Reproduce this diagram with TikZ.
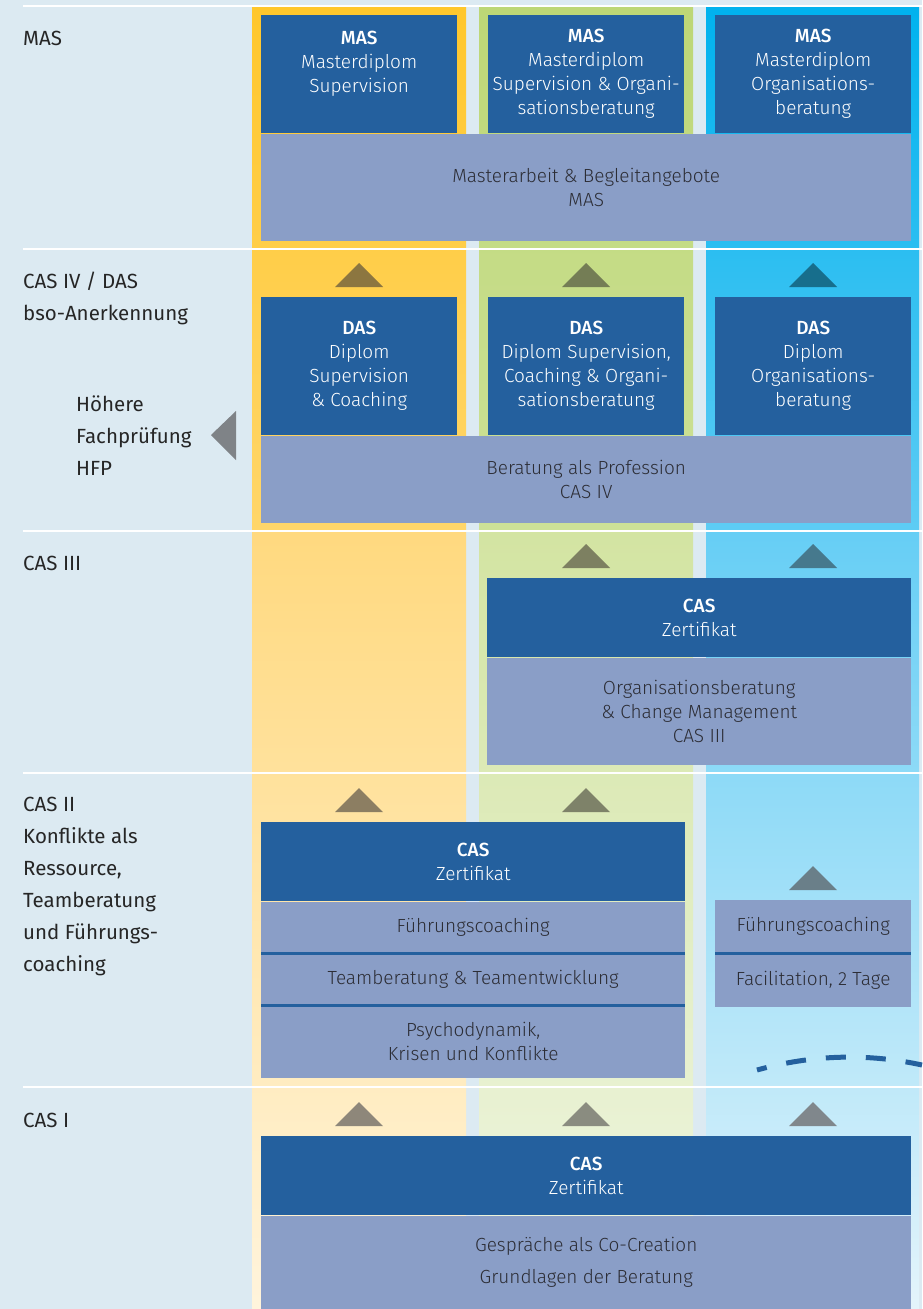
\documentclass[tikz,border=0pt]{standalone}
\usepackage{fontspec}
\setmainfont{Fira Sans}
\newfontfamily\lightfont{Fira Sans Light}
\newfontfamily\headfont{Fira Sans Medium}
\usetikzlibrary{positioning}

\definecolor{bgblue}{HTML}{DCEAF2}
\definecolor{boxdark}{HTML}{24609E}
\definecolor{boxlight}{HTML}{8A9EC7}
\definecolor{labeltext}{HTML}{262626}
\definecolor{bodytext}{HTML}{2C2D35}
\definecolor{yelTop}{HTML}{FFC72C}
\definecolor{yelUp}{HTML}{FFD66A}
\definecolor{yelLow}{HTML}{FFD97F}
\definecolor{yelMid}{HTML}{FFEBB8}
\definecolor{yelBot}{HTML}{FFF4DC}
\definecolor{grnTop}{HTML}{BDD776}
\definecolor{grnUp}{HTML}{CDE197}
\definecolor{grnLow}{HTML}{D3E4A2}
\definecolor{grnMid}{HTML}{E2EDC3}
\definecolor{grnBot}{HTML}{F0F6E3}
\definecolor{cyaTop}{HTML}{00B2EE}
\definecolor{cyaUp}{HTML}{5ECCF4}
\definecolor{cyaLow}{HTML}{66CEF5}
\definecolor{cyaMid}{HTML}{C0E8F9}
\definecolor{cyaBot}{HTML}{E4F4FB}
\definecolor{triYa}{HTML}{8C7640}
\definecolor{triGa}{HTML}{747D55}
\definecolor{triCa}{HTML}{176E8C}
\definecolor{triGb}{HTML}{7D8061}
\definecolor{triCb}{HTML}{46798D}
\definecolor{triYc}{HTML}{8C7E62}
\definecolor{triGc}{HTML}{7E8269}
\definecolor{triCc}{HTML}{6A7F89}
\definecolor{triYd}{HTML}{8E877A}
\definecolor{triGd}{HTML}{8A8C80}
\definecolor{triCd}{HTML}{80878C}
\definecolor{triLeft}{HTML}{7F8387}

\tikzstyle{darkbox} = [rectangle, fill=boxdark, inner sep=0pt, anchor=north west, text=white, align=center, font=\lightfont\fontsize{19}{24}\selectfont]
\tikzstyle{lightbox} = [rectangle, fill=boxlight, inner sep=0pt, text=bodytext, align=center, font=\lightfont\fontsize{19}{24}\selectfont]
\tikzstyle{rowlabel} = [anchor=west, inner sep=0pt, align=left, text=labeltext, font=\fontsize{20.5}{32}\selectfont]
\tikzstyle{rowline} = [white, line width=2.5pt]
\tikzstyle{sepline} = [boxdark, line width=3pt]
\tikzstyle{dasharc} = [boxdark, line width=5pt, dash pattern=on 20pt off 20pt, dash phase=10pt]

\begin{document}
\begin{tikzpicture}[x=1pt, y=-1pt]
    \useasboundingbox (0,0) rectangle (922,1309);
    % Background and columns
    \fill[bgblue] (0,0) rectangle (922,1309);
    \shade[top color=yelTop, bottom color=yelUp] (252,7) rectangle (466,531);
    \shade[top color=yelLow, middle color=yelMid, bottom color=yelBot] (252,531) rectangle (466,1309);
    \shade[top color=grnTop, bottom color=grnUp] (479,7) rectangle (693,531);
    \shade[top color=grnLow, middle color=grnMid, bottom color=grnBot] (479,531) rectangle (693,1309);
    \shade[top color=cyaTop, bottom color=cyaUp] (706,7) rectangle (919,531);
    \shade[top color=cyaLow, middle color=cyaMid, bottom color=cyaBot] (706,531) rectangle (919,1309);
    \foreach \y in {6,249,531,773,1087}
        \draw[rowline] (23,\y) -- (922,\y);

    % Row labels
    \node[rowlabel] (lmas) at (23,38.7) {MAS};
    \node[rowlabel] (ldas) at (23,298.5) {CAS IV / DAS\\bso-Anerkennung};
    \node[rowlabel] (lhfp) at (76,435.5) {Höhere\\Fachprüfung\\HFP};
    \node[rowlabel] (lcas3) at (23,563) {CAS III};
    \node[rowlabel] (lcas2) at (23,886.5) {CAS II\\Konflikte als\\Ressource,\\Teamberatung\\und Führungs-\\coaching};
    \node[rowlabel] (lcas1) at (23,1120) {CAS I};

    % MAS
    \node[darkbox, minimum width=196, minimum height=118] (mas1) at (261,15) {{\headfont MAS}\\Masterdiplom\\Supervision\\\mbox{}};
    \node[darkbox, minimum width=196, minimum height=118] (mas2) at (488,15) {{\headfont MAS}\\Masterdiplom\\Supervision \& Organi-\\sationsberatung};
    \node[darkbox, minimum width=196, minimum height=118] (mas3) at (715,15) {{\headfont MAS}\\Masterdiplom\\Organisations-\\beratung};
    \node[lightbox, minimum width=650, minimum height=107, below=0pt of mas1.south west, anchor=north west] (masarbeit) {Masterarbeit \& Begleitangebote\\MAS};

    % DAS / CAS IV
    \node[darkbox, minimum width=196, minimum height=138] (das1) at (261,297) {{\headfont DAS}\\Diplom\\Supervision\\\& Coaching};
    \node[darkbox, minimum width=196, minimum height=138] (das2) at (488,297) {{\headfont DAS}\\Diplom Supervision,\\Coaching \& Organi-\\sationsberatung};
    \node[darkbox, minimum width=196, minimum height=138] (das3) at (715,297) {{\headfont DAS}\\Diplom\\Organisations-\\beratung};
    \node[lightbox, minimum width=650, minimum height=87, below=0pt of das1.south west, anchor=north west] (profession) {Beratung als Profession\\CAS IV};

    % CAS III
    \node[darkbox, minimum width=424, minimum height=79] (cas3) at (487,578) {{\headfont CAS}\\Zertifikat};
    \node[lightbox, minimum width=424, minimum height=107, below=0pt of cas3.south west, anchor=north west] (orgchange) {Organisationsberatung\\\& Change Management\\CAS III};

    % CAS II
    \node[darkbox, minimum width=424, minimum height=79] (cas2) at (261,822) {{\headfont CAS}\\Zertifikat};
    \node[lightbox, minimum width=424, minimum height=52, below=0pt of cas2.south west, anchor=north west] (fcoach) {Führungscoaching};
    \node[lightbox, minimum width=424, minimum height=51, below=0pt of fcoach.south west, anchor=north west] (teamber) {Teamberatung \& Teamentwicklung};
    \node[lightbox, minimum width=424, minimum height=73, below=0pt of teamber.south west, anchor=north west] (psycho) {Psychodynamik,\\Krisen und Konflikte};
    \draw[sepline] (fcoach.south west) -- (fcoach.south east);
    \draw[sepline] (teamber.south west) -- (teamber.south east);
    \node[lightbox, minimum width=196, minimum height=53, anchor=north west] (fcoachb) at (715,900) {Führungscoaching};
    \node[lightbox, minimum width=196, minimum height=53, below=0pt of fcoachb.south west, anchor=north west] (facil) {Facilitation, 2 Tage};
    \draw[sepline] (fcoachb.south west) -- (fcoachb.south east);
    \coordinate (arcstart) at (757,1070);
    \coordinate (arcend) at (922,1065);
    \draw[dasharc] (arcstart) .. controls (812,1054.7) and (867,1053) .. (arcend);

    % CAS I
    \node[darkbox, minimum width=650, minimum height=79] (cas1) at (261,1136) {{\headfont CAS}\\Zertifikat};
    \node[lightbox, minimum width=650, minimum height=94, below=0pt of cas1.south west, anchor=north west] (grundlagen) {Gespräche als Co-Creation\\[8pt]Grundlagen der Beratung};

    % Level arrows
    \foreach \x/\y/\c in {359/263/triYa, 586/263/triGa, 813/263/triCa,
                          586/544/triGb, 813/544/triCb,
                          359/788/triYc, 586/788/triGc, 813/866/triCc,
                          359/1102/triYd, 586/1102/triGd, 813/1102/triCd}
        \fill[\c] (\x-24,\y+24) -- (\x,\y) -- (\x+24,\y+24) -- cycle;
    \fill[triLeft] (211,435) -- (236,411) -- (236,460) -- cycle;
\end{tikzpicture}
\end{document}
